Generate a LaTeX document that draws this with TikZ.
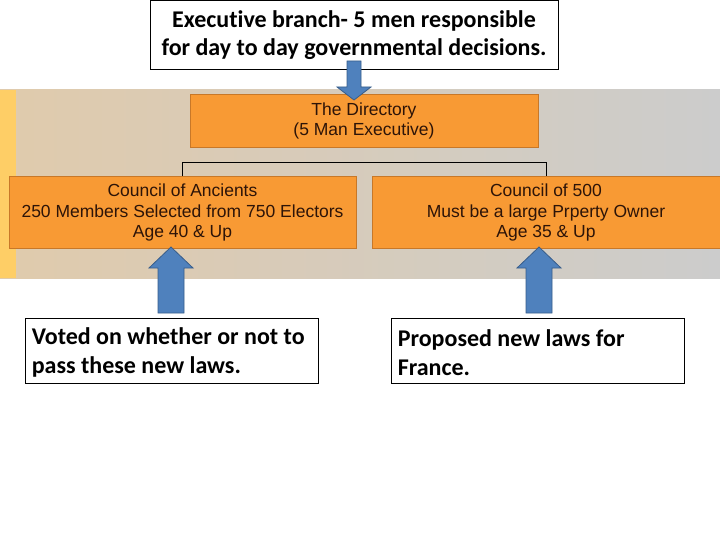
\documentclass[tikz,border=0pt]{standalone}
\usepackage{fontspec}
\setmainfont[Ligatures=NoCommon]{Carlito}
\newfontfamily\arialf{Liberation Sans}
\definecolor{orangebox}{RGB}{248,154,52}
\definecolor{orangeedge}{RGB}{200,120,40}
\definecolor{darktxt}{RGB}{45,20,8}
\definecolor{bandleft}{RGB}{224,203,172}
\definecolor{bandright}{RGB}{204,204,204}
\definecolor{stripe}{RGB}{254,206,102}
\definecolor{arrowblue}{RGB}{79,129,189}
\definecolor{arrowedge}{RGB}{56,93,138}
\begin{document}
\begin{tikzpicture}[x=1pt,y=-1pt,
  callout/.style={draw=black, line width=0.8pt, fill=white, inner sep=0pt, font=\fontsize{24}{28.5}\selectfont\bfseries},
  callouttext/.style={font=\fontsize{24}{29}\selectfont\bfseries, align=left, inner sep=0pt, anchor=west},
  orangebox/.style={draw=orangeedge, line width=0.6pt, fill=orangebox, inner sep=0pt, text=darktxt, font=\arialf\fontsize{17.5}{20.5}\selectfont, align=center},
  bluearrow/.style={fill=arrowblue, draw=arrowedge, line width=0.8pt, line join=miter},
  link/.style={draw=black, line width=0.8pt}]
\useasboundingbox (0,0) rectangle (720,540);
\fill[white] (0,0) rectangle (720,540);
% background band
\shade[left color=bandleft, right color=bandright] (0,90) rectangle (720,278);
\fill[stripe] (0,90) rectangle (16,278);
% top callout
\node[callout, minimum width=408pt, minimum height=69pt, align=center] (exec) at (354,35)
  {Executive branch- 5 men responsible\\for day to day governmental decisions.};
% directory
\node[orangebox, minimum width=348pt, minimum height=53pt] (dir) at (364,121)
  {The Directory\\(5 Man Executive)};
% councils
\node[orangebox, minimum width=347pt, minimum height=72pt] (anc) at (182.5,212.5)
  {Council of Ancients\\250 Members Selected from 750 Electors\\Age 40 \& Up};
\node[orangebox, minimum width=348pt, minimum height=72pt] (five) at (546,212.5)
  {Council of 500\\Must be a large Prperty Owner\\Age 35 \& Up};
% connector
\coordinate (bar) at (0,162);
\draw[link] (anc.north) -- (anc.north |- bar) -- (five.north |- bar) -- (five.north);
% bottom callouts
\node[callout, minimum width=293pt, minimum height=65pt] (vote) at (171.5,350.5) {};
\node[callouttext] at ([xshift=7pt,yshift=-2pt]vote.west)
  {Voted on whether or not to\\pass these new laws.};
\node[callout, minimum width=293pt, minimum height=65pt] (prop) at (537.5,350.5) {};
\node[callouttext] at ([xshift=7pt,yshift=-2pt]prop.west)
  {Proposed new laws for\\France.};
% top arrow
\draw[bluearrow] (347,61) -- (361,61) -- (361,87) -- (371,87) -- (354,100) -- (337,87) -- (347,87) -- cycle;
% left up arrow
\draw[bluearrow] (158,313) -- (184,313) -- (184,268) -- (193,268) -- (171,247) -- (149,268) -- (158,268) -- cycle;
% right up arrow
\draw[bluearrow] (526,313) -- (552,313) -- (552,268) -- (561,268) -- (539,247) -- (517,268) -- (526,268) -- cycle;
\end{tikzpicture}
\end{document}
